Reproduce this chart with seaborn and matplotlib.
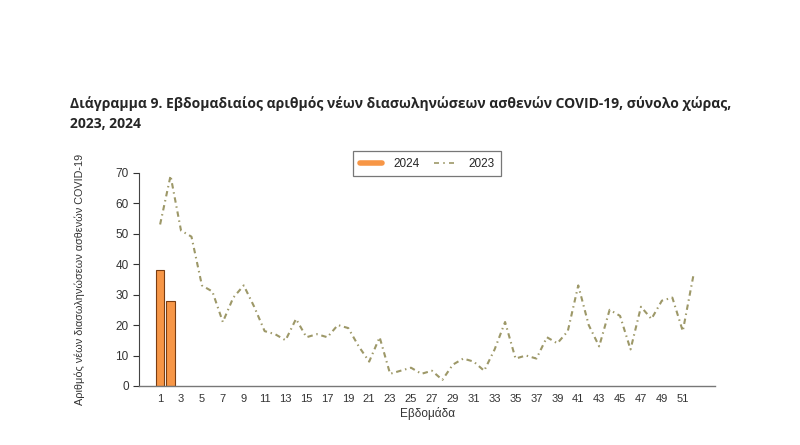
import matplotlib
matplotlib.use("Agg")
import matplotlib.pyplot as plt
from matplotlib.lines import Line2D
import seaborn as sns
import pandas as pd

weeks_2023 = list(range(1, 53))
cases_2023 = [53, 69, 51, 49, 33, 31, 21, 29, 33, 26, 18, 17, 15, 22, 16, 17, 16, 20, 19, 13,
              8, 16, 4, 5, 6, 4, 5, 2, 7, 9, 8, 5, 12, 21, 9, 10, 9, 16, 14, 18,
              33, 20, 13, 25, 23, 12, 26, 22, 28, 29, 18, 36]
weeks_2024 = [1, 2]
cases_2024 = [38, 28]
xtick_weeks = list(range(1, 52, 2))
yticks = [0, 10, 20, 30, 40, 50, 60, 70]

title = "Διάγραμμα 9. Εβδομαδιαίος αριθμός νέων διασωληνώσεων ασθενών COVID-19, σύνολο χώρας,\n2023, 2024"
ylabel = "Αριθμός νέων διασωληνώσεων ασθενών COVID-19"
xlabel = "Εβδομάδα"

df23 = pd.DataFrame({"week": weeks_2023, "cases": cases_2023})
df24 = pd.DataFrame({"week": weeks_2024, "cases": cases_2024})

sns.set_theme(style="white")
plt.rcParams["font.family"] = ["Liberation Sans", "DejaVu Sans"]

line_color = "#9d9868"
bar_color = "#f79646"

fig = plt.figure(figsize=(8, 4.45), dpi=100)
ax = fig.add_axes([0.174, 0.1326, 0.72, 0.4794])

sns.barplot(data=df24, x="week", y="cases", native_scale=True, width=0.82,
            color=bar_color, edgecolor="#7a3d12", linewidth=0.8, saturation=1, ax=ax)
sns.lineplot(data=df23, x="week", y="cases", color=line_color, linewidth=1.5,
             ax=ax)
ax.lines[-1].set_dashes([2.6, 1.8, 0.7, 1.8])

ax.set_xlim(-1.0, 54.1)
ax.set_ylim(0, 70)
ax.set_xticks(xtick_weeks)
ax.set_xticklabels([str(w) for w in xtick_weeks])
ax.set_yticks(yticks)
ax.tick_params(axis="x", length=0, labelsize=8, colors="#333333", pad=6)
ax.tick_params(axis="y", length=4, width=0.8, labelsize=8.5, colors="#333333", left=True)
for s in ["top", "right"]:
    ax.spines[s].set_visible(False)
ax.spines["left"].set_color("#444444")
ax.spines["left"].set_linewidth(0.8)
ax.spines["bottom"].set_color("#777777")
ax.spines["bottom"].set_linewidth(1.0)
ax.set_xlabel(xlabel, fontsize=8.5, color="#333333", labelpad=2)
ax.set_ylabel(ylabel, fontsize=7.8, color="#333333")
ax.yaxis.set_label_coords(-0.094, 0.5)

handles = [Line2D([0], [0], color=bar_color, linewidth=4, solid_capstyle="round"),
           Line2D([0], [0], color=line_color, linewidth=1.2, dashes=[3, 2.5, 1, 2.5])]
leg = fig.legend(handles, ["2024", "2023"], loc="center", bbox_to_anchor=(0.534, 0.632),
                 ncol=2, fontsize=8.5, frameon=True, fancybox=False, edgecolor="#555555",
                 handlelength=1.9, handletextpad=1.0, columnspacing=1.2, borderpad=0.55)
leg.get_frame().set_linewidth(0.9)

fig.text(0.0875, 0.745, title, fontsize=10.0, fontweight="bold", ha="left", va="center",
         family=["Open Sans", "DejaVu Sans"], linespacing=1.5)

fig.savefig("out.png", dpi=100, facecolor="white")
